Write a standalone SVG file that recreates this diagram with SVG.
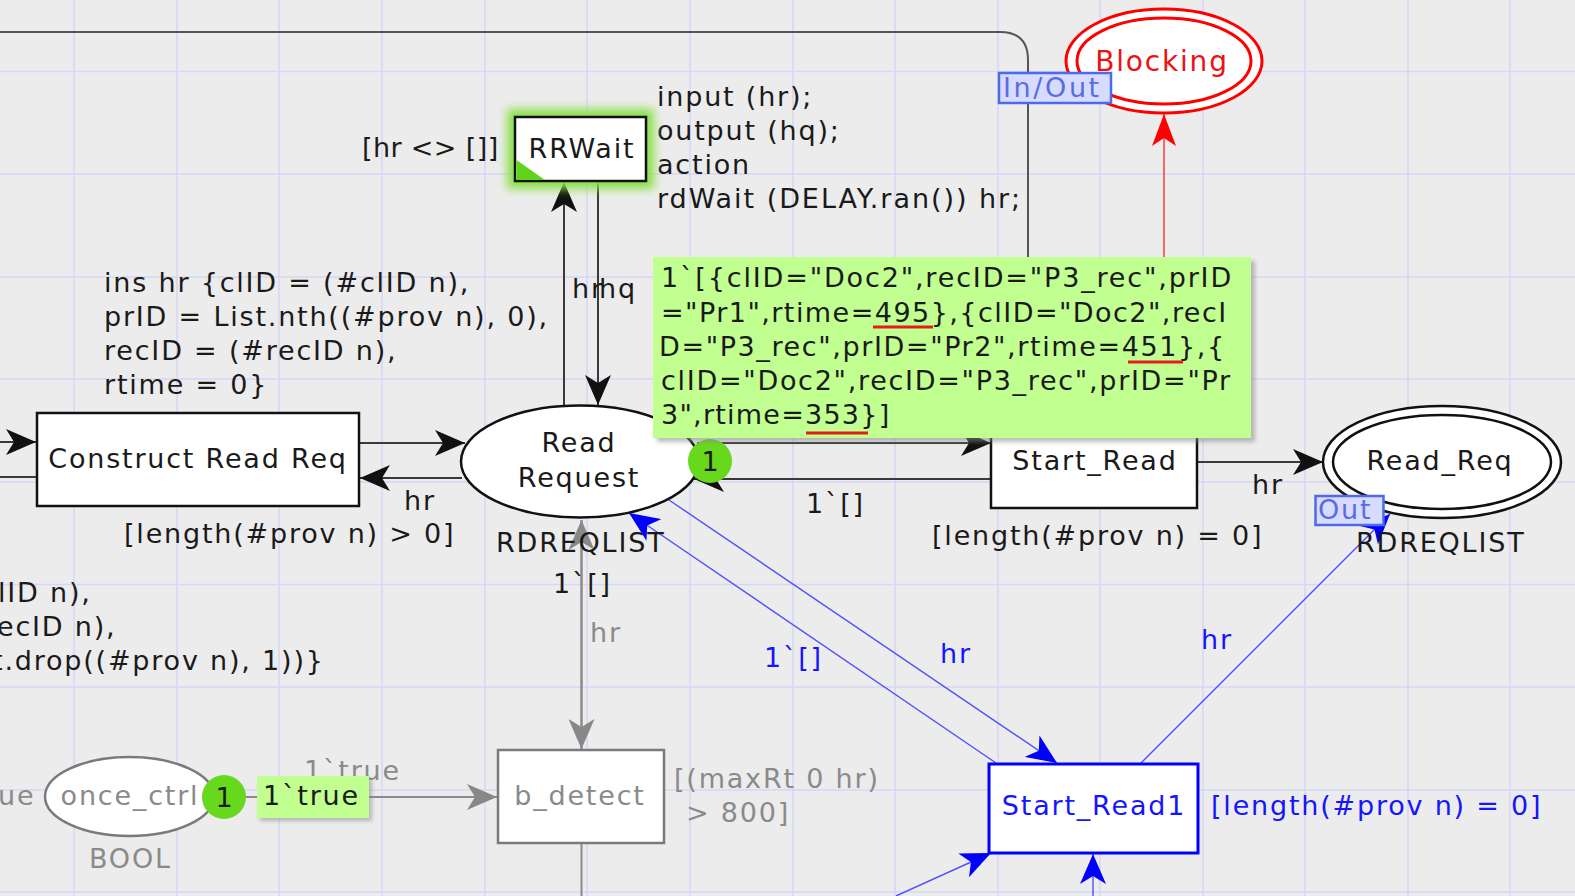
<svg xmlns="http://www.w3.org/2000/svg" width="1575" height="896" viewBox="0 0 1575 896">
<style>
.t{font-family:"DejaVu Sans","Liberation Sans",sans-serif;font-size:27px;letter-spacing:1.8px;fill:#1a1a1a}
.m{text-anchor:middle}
.gt{fill:#8a8a8a}
.bt{fill:#1515ff}
.rt{fill:#ee1111}
.tag{fill:#5a6de0}
.place{fill:#fff;stroke:#111;stroke-width:2.5}
.rplace{fill:#fff;stroke:#ff0000;stroke-width:3}
.trans{fill:#fff;stroke:#111;stroke-width:2.5}
.arc{fill:none;stroke:#3a3a3a;stroke-width:2}
.garc{fill:none;stroke:#8a8a8a;stroke-width:2}
.barc{fill:none;stroke:#5050ff;stroke-width:1.4}
.grid line{stroke:#d6d6f7;stroke-width:1.5}
.tok{fill:#68d81c}
.mk{fill:#c0ff90}
.ul{stroke:#e61c1c;stroke-width:3}
</style>
<defs>
<marker id="ak" viewBox="0 0 30 26" refX="30" refY="13" markerWidth="30" markerHeight="26" markerUnits="userSpaceOnUse" orient="auto"><path d="M0,0 L30,13 L0,26 L8,13 Z" fill="#111"/></marker>
<marker id="ag" viewBox="0 0 30 26" refX="30" refY="13" markerWidth="30" markerHeight="26" markerUnits="userSpaceOnUse" orient="auto"><path d="M0,0 L30,13 L0,26 L8,13 Z" fill="#888"/></marker>
<marker id="ab" viewBox="0 0 30 26" refX="30" refY="13" markerWidth="30" markerHeight="26" markerUnits="userSpaceOnUse" orient="auto"><path d="M0,0 L30,13 L0,26 L8,13 Z" fill="#0000ff"/></marker>
<marker id="ar" viewBox="0 0 32 24" refX="32" refY="12" markerWidth="32" markerHeight="24" markerUnits="userSpaceOnUse" orient="auto"><path d="M0,0 L32,12 L0,24 L8,12 Z" fill="#ff0000"/></marker>
<filter id="blur" x="-30%" y="-30%" width="160%" height="160%"><feGaussianBlur stdDeviation="5"/></filter>
<filter id="sh" x="-10%" y="-10%" width="120%" height="120%"><feGaussianBlur stdDeviation="2"/></filter>
</defs>
<rect width="1575" height="896" fill="#ececec"/>
<g class="grid">
<line x1="74" y1="0" x2="74" y2="896"/><line x1="177" y1="0" x2="177" y2="896"/><line x1="279" y1="0" x2="279" y2="896"/><line x1="382" y1="0" x2="382" y2="896"/><line x1="485" y1="0" x2="485" y2="896"/><line x1="587" y1="0" x2="587" y2="896"/><line x1="690" y1="0" x2="690" y2="896"/><line x1="793" y1="0" x2="793" y2="896"/><line x1="895" y1="0" x2="895" y2="896"/><line x1="998" y1="0" x2="998" y2="896"/><line x1="1100" y1="0" x2="1100" y2="896"/><line x1="1203" y1="0" x2="1203" y2="896"/><line x1="1305" y1="0" x2="1305" y2="896"/><line x1="1408" y1="0" x2="1408" y2="896"/><line x1="1510" y1="0" x2="1510" y2="896"/>
<line x1="0" y1="71.5" x2="1575" y2="71.5"/><line x1="0" y1="174" x2="1575" y2="174"/><line x1="0" y1="277" x2="1575" y2="277"/><line x1="0" y1="379" x2="1575" y2="379"/><line x1="0" y1="482" x2="1575" y2="482"/><line x1="0" y1="584.5" x2="1575" y2="584.5"/><line x1="0" y1="687" x2="1575" y2="687"/><line x1="0" y1="790" x2="1575" y2="790"/><line x1="0" y1="892" x2="1575" y2="892"/>
</g>
<g id="connectors">
<path class="arc" d="M0,32 H1000 Q1028,32 1028,60 V258" style="stroke:#555"/>
<path class="arc" d="M0,442 H36" marker-end="url(#ak)"/>
<path class="arc" d="M37,477 H0"/>
<path class="arc" d="M359,443 H465" marker-end="url(#ak)"/>
<path class="arc" d="M462,478 H360" marker-end="url(#ak)"/>
<path class="arc" d="M564,406 V182" marker-end="url(#ak)"/>
<path class="arc" d="M598,181 V405" marker-end="url(#ak)"/>
<path class="arc" d="M697,443 H991" marker-end="url(#ak)"/>
<path class="arc" d="M991,479 H694" marker-end="url(#ak)"/>
<path class="arc" d="M1197,462 H1323" marker-end="url(#ak)"/>
<path d="M1164,258 V114" fill="none" stroke="#ff2020" stroke-width="1.3" marker-end="url(#ar)"/>
<path class="garc" d="M581.5,750 V520" marker-end="url(#ag)"/>
<path class="garc" d="M581.5,520 V749" marker-end="url(#ag)"/>
<path class="garc" d="M581.5,843 V896"/>
<path class="garc" d="M214,797 H497" marker-end="url(#ag)"/>
<path class="barc" d="M669,500 L1057,763" marker-end="url(#ab)"/>
<path class="barc" d="M996,763 L629,513" marker-end="url(#ab)"/>
<path class="barc" d="M1141,763 L1390,514" marker-end="url(#ab)"/>
<path class="barc" d="M896,896 L991,853" marker-end="url(#ab)"/>
<path class="barc" d="M1093,896 V854" marker-end="url(#ab)"/>
</g>
<g id="labels">
<text class="t" x="362" y="157" textLength="138">[hr &lt;&gt; []]</text>
<text class="t" x="657" y="106">input (hr);</text>
<text class="t" x="657" y="140">output (hq);</text>
<text class="t" x="657" y="174">action</text>
<text class="t" x="657" y="208" textLength="365">rdWait (DELAY.ran()) hr;</text>
<text class="t" x="572" y="298">hr</text>
<text class="t" x="599" y="298">hq</text>
<text class="t" x="104" y="292">ins hr {clID = (#clID n),</text>
<text class="t" x="104" y="326">prID = List.nth((#prov n), 0),</text>
<text class="t" x="104" y="360">recID = (#recID n),</text>
<text class="t" x="104" y="394">rtime = 0}</text>
<text class="t" x="-2" y="602">lID n),</text>
<text class="t" x="-3" y="636">ecID n),</text>
<text class="t" x="-8" y="670">t.drop((#prov n), 1))}</text>
<text class="t" x="124" y="543">[length(#prov n) &gt; 0]</text>
<text class="t" x="404" y="510">hr</text>
<text class="t" x="806" y="513">1`[]</text>
<text class="t" x="932" y="545">[length(#prov n) = 0]</text>
<text class="t" x="1252" y="494">hr</text>
<text class="t bt" x="764" y="667">1`[]</text>
<text class="t bt" x="940" y="663">hr</text>
<text class="t bt" x="1201" y="649">hr</text>
<text class="t bt" x="1211" y="815">[length(#prov n) = 0]</text>
<text class="t gt" x="590" y="642">hr</text>
<text class="t gt" x="304" y="780">1`true</text>
<text class="t gt" x="674" y="788">[(maxRt 0 hr)</text>
<text class="t gt" x="686" y="822">&gt; 800]</text>
</g>
<g id="Blocking">
<ellipse class="rplace" cx="1164" cy="61" rx="98" ry="52"/>
<ellipse class="rplace" cx="1164" cy="61" rx="87" ry="43"/>
<text class="t rt m" x="1162" y="71" style="font-size:28px">Blocking</text>
<rect x="999" y="73" width="112" height="30" fill="#d6dbff" stroke="#4d6ae8" stroke-width="2.5"/>
<text class="t tag" x="1003" y="97" textLength="98">In/Out</text>
</g>
<g id="RRWait">
<rect x="507" y="109" width="147" height="80" fill="#8be04a" filter="url(#blur)"/>
<rect class="trans" x="515" y="117" width="131" height="64"/>
<polygon points="516.5,160 516.5,180 545,180" fill="#5fd41a"/>
<text class="t m" x="582" y="158">RRWait</text>
</g>
<g id="ConstructReadReq">
<rect class="trans" x="37" y="413" width="322" height="93"/>
<text class="t m" x="198" y="468">Construct Read Req</text>
</g>
<g id="ReadRequest">
<ellipse class="place" cx="580" cy="461.5" rx="119" ry="56"/>
<text class="t m" x="579" y="452">Read</text>
<text class="t m" x="579" y="487">Request</text>
<text class="t" x="496" y="552">RDREQLIST</text>
<text class="t" x="553" y="593">1`[]</text>
<circle class="tok" cx="710" cy="461" r="22"/>
<text class="t m" x="710" y="471" style="letter-spacing:0">1</text>
</g>
<g id="StartRead">
<rect class="trans" x="991" y="415" width="206" height="93"/>
<text class="t m" x="1095" y="470">Start_Read</text>
</g>
<g id="marking">
<rect x="657" y="261" width="598" height="181" fill="#888" opacity="0.55" filter="url(#sh)"/>
<rect class="mk" x="653" y="257" width="598" height="181"/>
<text class="t" x="661" y="287" textLength="572" lengthAdjust="spacing">1`[{clID="Doc2",recID="P3_rec",prID</text>
<text class="t" x="661" y="322" textLength="567" lengthAdjust="spacing">="Pr1",rtime=495},{clID="Doc2",recI</text>
<text class="t" x="659" y="356" textLength="567" lengthAdjust="spacing">D="P3_rec",prID="Pr2",rtime=451},{</text>
<text class="t" x="661" y="390" textLength="571" lengthAdjust="spacing">clID="Doc2",recID="P3_rec",prID="Pr</text>
<text class="t" x="661" y="424" textLength="230" lengthAdjust="spacing">3",rtime=353}]</text>
<line class="ul" x1="873" y1="327" x2="933" y2="327"/>
<line class="ul" x1="1128" y1="362" x2="1183" y2="362"/>
<line class="ul" x1="806" y1="433" x2="868" y2="433"/>
</g>
<g id="ReadReq">
<ellipse class="place" cx="1442" cy="462" rx="119" ry="56"/>
<ellipse cx="1442" cy="462" rx="109" ry="47" fill="none" stroke="#111" stroke-width="2.5"/>
<text class="t m" x="1440" y="470">Read_Req</text>
<rect x="1315.5" y="496" width="68" height="29" fill="#d6dbff" stroke="#4d6ae8" stroke-width="2.5"/>
<text class="t tag" x="1318" y="519">Out</text>
<text class="t" x="1356" y="552">RDREQLIST</text>
</g>
<g id="StartRead1">
<rect x="989" y="764" width="209" height="89" fill="#fff" stroke="#0000ff" stroke-width="3"/>
<text class="t bt m" x="1094" y="815">Start_Read1</text>
</g>
<g id="bdetect">
<rect x="498" y="750" width="166" height="93" fill="#fff" stroke="#7a7a7a" stroke-width="2.5"/>
<text class="t gt m" x="580" y="805">b_detect</text>
</g>
<g id="oncectrl">
<ellipse cx="129.5" cy="796.5" rx="84.5" ry="39.5" fill="#fff" stroke="#7a7a7a" stroke-width="2.5"/>
<text class="t gt m" x="130" y="805">once_ctrl</text>
<text class="t gt" x="-2" y="805">ue</text>
<text class="t gt" x="89" y="868">BOOL</text>
<circle class="tok" cx="224" cy="797" r="22"/>
<text class="t m" x="224" y="807" style="letter-spacing:0">1</text>
<rect x="260" y="779" width="112" height="42" fill="#888" opacity="0.55" filter="url(#sh)"/>
<rect class="mk" x="257" y="776" width="112" height="42"/>
<text class="t" x="263" y="805">1`true</text>
</g>
</svg>
